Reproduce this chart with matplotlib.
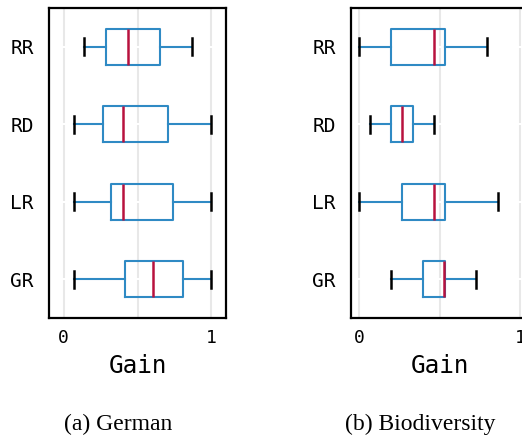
import matplotlib
matplotlib.use("Agg")
import matplotlib.pyplot as plt

# categories bottom to top
methods = ["GR", "LR", "RD", "RR"]

# German: whisker low, q1, median, q3, whisker high
german_lo = [0.068, 0.068, 0.068, 0.136]
german_q1 = [0.418, 0.318, 0.266, 0.284]
german_med = [0.605, 0.405, 0.405, 0.436]
german_q3 = [0.807, 0.739, 0.705, 0.655]
german_hi = [1.0, 1.0, 1.0, 0.868]

# Biodiversity
bio_lo = [0.196, 0.0, 0.068, 0.0]
bio_q1 = [0.399, 0.267, 0.196, 0.196]
bio_med = [0.529, 0.465, 0.267, 0.465]
bio_q3 = [0.533, 0.533, 0.335, 0.533]
bio_hi = [0.729, 0.862, 0.465, 0.795]

BLUE = "#2f8ac4"
RED = "#b8123e"
mono = "DejaVu Sans Mono"


def make_stats(lo, q1, med, q3, hi):
    out = []
    for i in range(len(lo)):
        out.append(dict(whislo=lo[i], q1=q1[i], med=med[i], q3=q3[i],
                        whishi=hi[i], fliers=[], label=methods[i]))
    return out


def draw(ax, stats, xlim):
    ax.bxp(stats, positions=range(1, len(stats) + 1), vert=False,
           widths=0.46, capwidths=0.22, showfliers=False,
           boxprops=dict(color=BLUE, linewidth=1.5),
           whiskerprops=dict(color=BLUE, linewidth=1.5),
           capprops=dict(color="black", linewidth=1.8),
           medianprops=dict(color=RED, linewidth=1.8))
    ax.set_xlim(*xlim)
    ax.set_ylim(0.5, len(stats) + 0.5)
    ax.set_xticks([0, 0.5, 1])
    ax.set_xticklabels(["0", "", "1"], fontfamily=mono, fontsize=13)
    ax.set_yticks(range(1, len(stats) + 1))
    ax.set_yticklabels(methods, fontfamily=mono, fontsize=14)
    ax.tick_params(axis="x", length=0, pad=8)
    ax.tick_params(axis="y", length=0, pad=11)
    ax.set_axisbelow(True)
    ax.grid(axis="x", color="#e8e8e8", linewidth=1.5)
    ax.grid(axis="y", color="white", linewidth=1.5)
    for s in ax.spines.values():
        s.set_linewidth(1.6)
        s.set_color("black")
    ax.set_xlabel("Gain", fontfamily=mono, fontsize=17.5, labelpad=5)


fig = plt.figure(figsize=(5.22, 4.37), dpi=100)
ax1 = fig.add_axes([49 / 522, 119 / 437, 177 / 522, 310 / 437])
ax2 = fig.add_axes([351 / 522, 119 / 437, 177 / 522, 310 / 437])

draw(ax1, make_stats(german_lo, german_q1, german_med, german_q3, german_hi), (-0.1, 1.1))
draw(ax2, make_stats(bio_lo, bio_q1, bio_med, bio_q3, bio_hi), (-0.05, 1.05))

fig.text(118 / 522, 1 - 424 / 437, "(a) German", ha="center", va="center",
         fontfamily="Liberation Serif", fontsize=17)
fig.text(420 / 522, 1 - 424 / 437, "(b) Biodiversity", ha="center", va="center",
         fontfamily="Liberation Serif", fontsize=17)

fig.savefig("out.png", dpi=100)
